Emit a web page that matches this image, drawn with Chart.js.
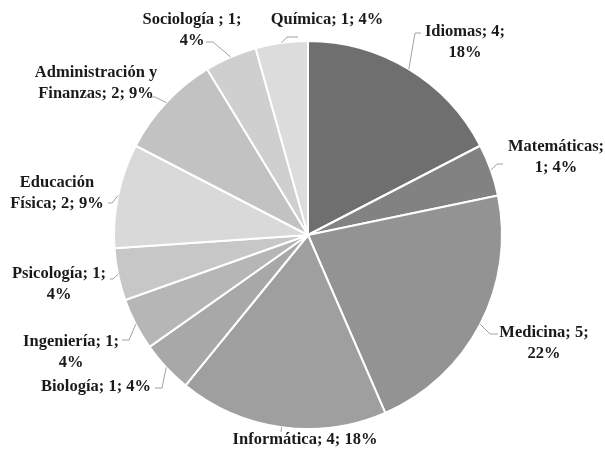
<!DOCTYPE html>
<html>
<head>
<meta charset="utf-8">
<script src="https://cdn.jsdelivr.net/npm/chart.js@4/dist/chart.umd.min.js"></script>
<style>
html,body{margin:0;padding:0;background:#fff;}
#wrap{width:605px;height:451px;position:relative;}
</style>
</head>
<body>
<div id="wrap"><canvas id="c" width="605" height="451"></canvas></div>
<script>
const categories = ["Idiomas","Matemáticas","Medicina","Informática","Biología","Ingeniería","Psicología","Educación Física","Administración y Finanzas","Sociología ","Química"];
const counts = [4,1,5,4,1,1,1,2,2,1,1];
const percentLabels = ["18%","4%","22%","18%","4%","4%","4%","9%","9%","4%","4%"];
const sliceColors = ["#6f6f6f","#828282","#939393","#9f9f9f","#a8a8a8","#b6b6b6","#c7c7c7","#d9d9d9","#c2c2c2","#cfcfcf","#dcdcdc"];

// label placement (layout only)
const labelLayout = [
  {x:465, y:32, ex:[415,33], end:[421,33]},
  {x:556, y:147, ex:[497,164], end:[503,164]},
  {x:544, y:333, ex:[490,334], end:[498,334]},
  {x:305, y:440, ex:[281,432], end:[281,432]},
  {x:96, y:387, ex:[162,388], end:[155,388]},
  {x:71, y:342, ex:[129,340], end:[122,340]},
  {x:59, y:274, ex:[113,279], end:[110,279]},
  {x:57, y:183, ex:[112,203], end:[108,203]},
  {x:96, y:73, ex:[155,97], end:[150,97]},
  {x:192, y:20, ex:[213,42], end:[206,42]},
  {x:327, y:20, ex:[287,37], end:[298,37]}
];
// how each label wraps
function wrapLabel(i){
  const c = categories[i], n = counts[i], p = percentLabels[i];
  switch(i){
    case 0: return [c+"; "+n+";", p];
    case 1: return [c+";", n+"; "+p];
    case 2: return [c+"; "+n+";", p];
    case 3: return [c+"; "+n+"; "+p];
    case 4: return [c+"; "+n+"; "+p];
    case 5: return [c+"; "+n+";", p];
    case 6: return [c+"; "+n+";", p];
    case 7: return ["Educación", "Física; "+n+"; "+p];
    case 8: return ["Administración y", "Finanzas; "+n+"; "+p];
    case 9: return [c+"; "+n+";", p];
    case 10: return [c+"; "+n+"; "+p];
  }
}

const labelPlugin = {
  id:'outLabels',
  afterDatasetsDraw(chart){
    const ctx = chart.ctx;
    const meta = chart.getDatasetMeta(0);
    ctx.save();
    meta.data.forEach((arc,i)=>{
      const L = labelLayout[i];
      const mid = (arc.startAngle + arc.endAngle)/2;
      const ox = arc.x + Math.cos(mid)*arc.outerRadius;
      const oy = arc.y + Math.sin(mid)*arc.outerRadius;
      ctx.strokeStyle = '#a0a0a0';
      ctx.lineWidth = 1;
      ctx.beginPath();
      ctx.moveTo(ox,oy);
      ctx.lineTo(L.ex[0],L.ex[1]);
      ctx.lineTo(L.end[0],L.end[1]);
      ctx.stroke();
      ctx.fillStyle = '#1a1a1a';
      ctx.font = 'bold 16.5px "Liberation Serif", "Times New Roman", serif';
      ctx.textAlign = 'center';
      ctx.textBaseline = 'middle';
      wrapLabel(i).forEach((t,k)=>{
        ctx.fillText(t, L.x, L.y + k*21);
      });
    });
    ctx.restore();
  }
};

new Chart(document.getElementById('c'), {
  type:'pie',
  data:{
    labels: categories,
    datasets:[{
      data: counts,
      backgroundColor: sliceColors,
      borderColor:'#ffffff',
      borderWidth:2
    }]
  },
  options:{
    responsive:false,
    animation:false,
    layout:{padding:{left:113,right:102,top:40,bottom:21}},
    plugins:{legend:{display:false},tooltip:{enabled:false}}
  },
  plugins:[labelPlugin]
});
</script>
</body>
</html>
